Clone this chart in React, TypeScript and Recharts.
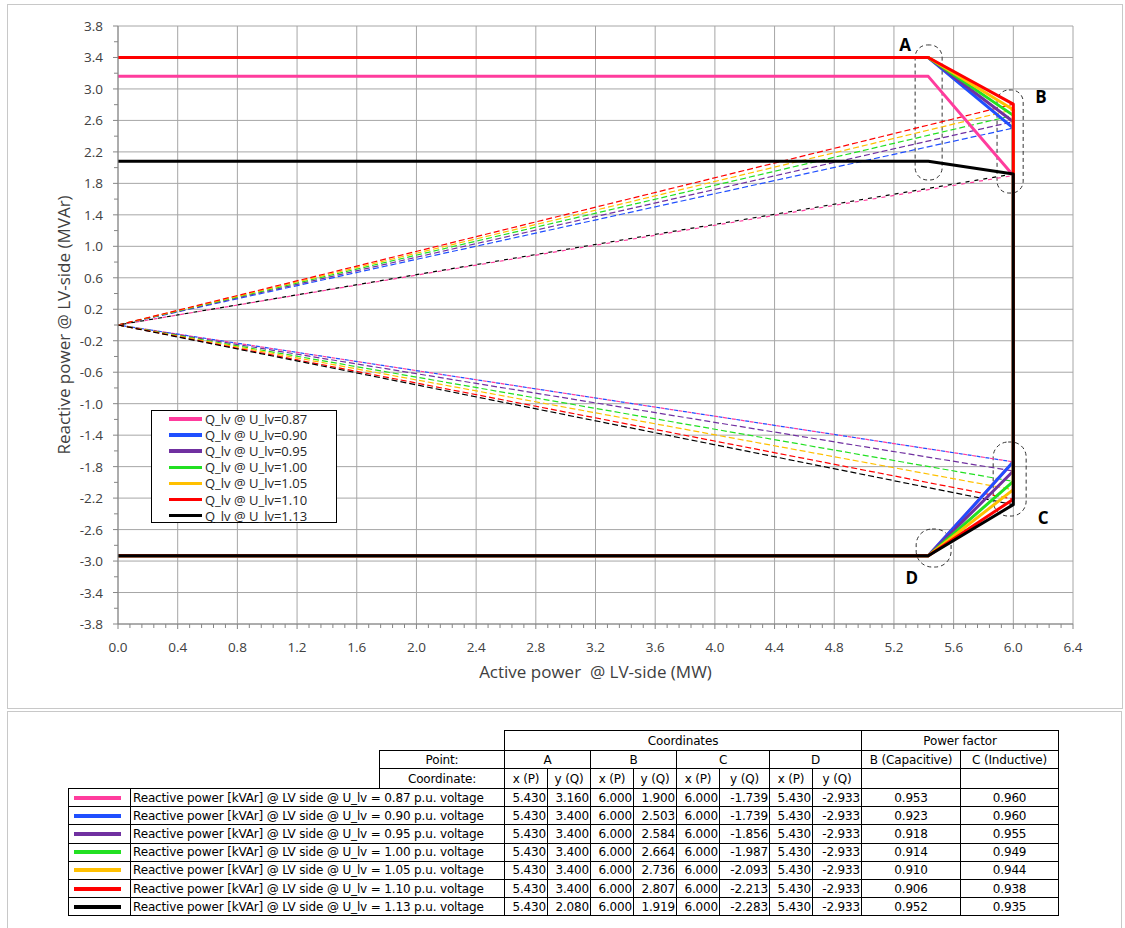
import React from "react";
import {
  LineChart,
  Line,
  XAxis,
  YAxis,
  CartesianGrid,
  ReferenceArea,
  ReferenceDot,
  Legend,
} from "recharts";

// voltage levels (p.u.) for each curve
const voltageLabels = ["0.87", "0.90", "0.95", "1.00", "1.05", "1.10", "1.13"];

// corner points of each capability curve (MW / MVAr)
const pointAx = [5.43, 5.43, 5.43, 5.43, 5.43, 5.43, 5.43];
const pointAy = [3.16, 3.4, 3.4, 3.4, 3.4, 3.4, 2.08];
const pointBx = [6.0, 6.0, 6.0, 6.0, 6.0, 6.0, 6.0];
const pointBy = [1.9, 2.503, 2.584, 2.664, 2.736, 2.807, 1.919];
const pointCx = [6.0, 6.0, 6.0, 6.0, 6.0, 6.0, 6.0];
const pointCy = [-1.739, -1.739, -1.856, -1.987, -2.093, -2.213, -2.283];
const pointDx = [5.43, 5.43, 5.43, 5.43, 5.43, 5.43, 5.43];
const pointDy = [-2.933, -2.933, -2.933, -2.933, -2.933, -2.933, -2.933];

// power factors at B and C
const pfCapacitive = [0.953, 0.923, 0.918, 0.914, 0.91, 0.906, 0.952];
const pfInductive = [0.96, 0.96, 0.955, 0.949, 0.944, 0.938, 0.935];

const xTickLabels = [0, 0.4, 0.8, 1.2, 1.6, 2.0, 2.4, 2.8, 3.2, 3.6, 4.0, 4.4, 4.8, 5.2, 5.6, 6.0, 6.4];
const yTickLabels = [-3.8, -3.4, -3.0, -2.6, -2.2, -1.8, -1.4, -1.0, -0.6, -0.2, 0.2, 0.6, 1.0, 1.4, 1.8, 2.2, 2.6, 3.0, 3.4, 3.8];

// annotation boxes around corner points, with their letters
const markerNames = ["A", "B", "C", "D"];
const markerBoxX1 = [5.342, 5.891, 5.865, 5.349];
const markerBoxX2 = [5.523, 6.066, 6.086, 5.583];
const markerBoxY1 = [1.843, 1.677, -2.428, -3.076];
const markerBoxY2 = [3.559, 2.987, -1.487, -2.593];
const markerTextX = [5.275, 6.186, 6.2, 5.32];
const markerTextY = [3.559, 2.898, -2.453, -3.216];

const seriesColors = ["#ff3c9d", "#1f4fff", "#7030a0", "#22e022", "#ffc000", "#ff0000", "#000000"];
// overlapping dashed pairs (pink/black up, pink/blue down) interleave their dashes
const upDash = ["4 5", "6 3", "6 3", "6 3", "6 3", "6 3", "4 5"];
const upOffset = [0, 0, 0, 0, 0, 0, 4.5];
const downDash = ["4 5", "4 5", "6 3", "6 3", "6 3", "6 3", "6 3"];
const downOffset = [0, 4.5, 0, 0, 0, 0, 0];
const AXIS = "#868686";
const GRID = "#a6a6a6";
const TEXT = "#404040";
const FONT = "'Open Sans', sans-serif";

// minor ticks: 5 subdivisions on x, 2 on y
const xMinor: number[] = [];
xTickLabels.forEach((v, i) => {
  if (i < xTickLabels.length - 1) {
    const step = (xTickLabels[i + 1] - v) / 5;
    for (let k = 0; k < 5; k++) xMinor.push(+(v + k * step).toFixed(3));
  } else xMinor.push(v);
});
const yMinor: number[] = [];
yTickLabels.forEach((v, i) => {
  yMinor.push(v);
  if (i < yTickLabels.length - 1) yMinor.push(+((v + yTickLabels[i + 1]) / 2).toFixed(3));
});
const xMajorSet = new Set(xTickLabels.map((v) => v.toFixed(2)));
const yMajorSet = new Set(yTickLabels.map((v) => v.toFixed(2)));

const series = voltageLabels.map((v, i) => ({
  name: `Q_lv @ U_lv=${v}`,
  solid: [
    { x: 0, y: pointAy[i] },
    { x: pointAx[i], y: pointAy[i] },
    { x: pointBx[i], y: pointBy[i] },
    { x: pointCx[i], y: pointCy[i] },
    { x: pointDx[i], y: pointDy[i] },
    { x: 0, y: pointDy[i] },
  ],
  up: [
    { x: 0, y: 0 },
    { x: pointBx[i], y: pointBy[i] },
  ],
  down: [
    { x: 0, y: 0 },
    { x: pointCx[i], y: pointCy[i] },
  ],
}));

const XTick = (props: any) => {
  const { x, y, payload } = props;
  const major = xMajorSet.has(Number(payload.value).toFixed(2));
  return (
    <g>
      <line x1={x} y1={y} x2={x} y2={y + (major ? 5 : 4)} stroke={AXIS} />
      {major && (
        <text x={x} y={y + 28} textAnchor="middle" fill={TEXT} fontSize={13.5} fontFamily={FONT}>
          {Number(payload.value).toFixed(1)}
        </text>
      )}
    </g>
  );
};

const YTick = (props: any) => {
  const { x, y, payload } = props;
  const major = yMajorSet.has(Number(payload.value).toFixed(2));
  return (
    <g>
      <line x1={x - (major ? 5 : 4)} y1={y} x2={x} y2={y} stroke={AXIS} />
      {major && (
        <text x={x - 15} y={y + 5} textAnchor="end" fill={TEXT} fontSize={13.5} fontFamily={FONT}>
          {Number(payload.value).toFixed(1)}
        </text>
      )}
    </g>
  );
};

const LegendBox = () => (
  <div
    style={{
      width: 186,
      height: 113,
      border: "1px solid #000",
      background: "#fff",
      boxSizing: "border-box",
      fontFamily: FONT,
      fontSize: 13,
      color: "#262626",
    }}
  >
    {series.map((s, i) => (
      <div key={s.name} style={{ display: "flex", alignItems: "center", height: 16.1 }}>
        <span
          style={{ display: "inline-block", marginLeft: 17, width: 33, height: 3.5, background: seriesColors[i] }}
        />
        <span style={{ marginLeft: 3, whiteSpace: "pre" }}>{s.name}</span>
      </div>
    ))}
  </div>
);

const cell: React.CSSProperties = { border: "1px solid #000", padding: "0 2px", whiteSpace: "nowrap" };
const numCell: React.CSSProperties = { ...cell, textAlign: "right", padding: "0 1px" };
const centerCell: React.CSSProperties = { ...cell, textAlign: "center" };
const blank: React.CSSProperties = { border: "none", padding: 0 };
const colWidths = [62, 249, 125, 43, 43, 43, 43, 43, 50, 43, 49, 99, 98];

const DataTable = () => (
  <table
    style={{
      position: "absolute",
      left: 68,
      top: 730,
      width: 990,
      borderCollapse: "collapse",
      tableLayout: "fixed",
      fontFamily: "'DejaVu Sans', sans-serif",
      fontSize: 12,
      letterSpacing: -0.15,
      color: "#000",
      lineHeight: "14px",
    }}
  >
    <colgroup>
      {colWidths.map((w, i) => (
        <col key={i} style={{ width: w }} />
      ))}
    </colgroup>
    <tbody>
      <tr style={{ height: 20 }}>
        <td colSpan={3} style={blank} />
        <td colSpan={8} style={centerCell}>Coordinates</td>
        <td colSpan={2} style={centerCell}>Power factor</td>
      </tr>
      <tr style={{ height: 18 }}>
        <td colSpan={2} style={blank} />
        <td style={centerCell}>Point:</td>
        {markerNames.map((m) => (
          <td key={m} colSpan={2} style={centerCell}>{m}</td>
        ))}
        <td style={centerCell}>B (Capacitive)</td>
        <td style={centerCell}>C (Inductive)</td>
      </tr>
      <tr style={{ height: 20 }}>
        <td colSpan={2} style={blank} />
        <td style={centerCell}>Coordinate:</td>
        {markerNames.map((m) => (
          <React.Fragment key={m}>
            <td style={centerCell}>x (P)</td>
            <td style={centerCell}>y (Q)</td>
          </React.Fragment>
        ))}
        <td style={cell} />
        <td style={cell} />
      </tr>
      {voltageLabels.map((v, i) => (
        <tr key={v} style={{ height: 18.2 }}>
          <td style={{ ...cell, padding: "0 9px 0 5px" }}>
            <div style={{ height: 4, background: seriesColors[i] }} />
          </td>
          <td colSpan={2} style={cell}>
            Reactive power [kVAr] @ LV side @ U_lv = {v} p.u. voltage
          </td>
          <td style={numCell}>{pointAx[i].toFixed(3)}</td>
          <td style={numCell}>{pointAy[i].toFixed(3)}</td>
          <td style={numCell}>{pointBx[i].toFixed(3)}</td>
          <td style={numCell}>{pointBy[i].toFixed(3)}</td>
          <td style={numCell}>{pointCx[i].toFixed(3)}</td>
          <td style={numCell}>{pointCy[i].toFixed(3)}</td>
          <td style={numCell}>{pointDx[i].toFixed(3)}</td>
          <td style={numCell}>{pointDy[i].toFixed(3)}</td>
          <td style={centerCell}>{pfCapacitive[i].toFixed(3)}</td>
          <td style={centerCell}>{pfInductive[i].toFixed(3)}</td>
        </tr>
      ))}
    </tbody>
  </table>
);

export default function App() {
  return (
    <div
      style={{
        position: "absolute",
        left: 0,
        top: 0,
        width: 1125,
        height: 928,
        background: "#fff",
        overflow: "hidden",
      }}
    >
      <div
        style={{
          position: "absolute",
          left: 7,
          top: 4,
          width: 1116,
          height: 705,
          border: "1px solid #c8c8c8",
          boxSizing: "border-box",
        }}
      />
      <div style={{ position: "absolute", left: 0, top: 0 }}>
        <LineChart width={1125} height={708} margin={{ top: 26, right: 52, left: 58, bottom: 44 }}>
          <CartesianGrid stroke={GRID} verticalValues={xTickLabels} horizontalValues={yTickLabels} />
          <XAxis
            type="number"
            dataKey="x"
            domain={[0, 6.4]}
            ticks={xMinor}
            interval={0}
            tickSize={0}
            tickMargin={0}
            tick={(p: any) => <XTick {...p} />}
            axisLine={{ stroke: AXIS }}
            height={40}
            allowDataOverflow
            label={{
              content: (p: any) => (
                <text
                  x={p.viewBox.x + p.viewBox.width / 2}
                  y={p.viewBox.y + 54}
                  textAnchor="middle"
                  fill={TEXT}
                  fontSize={17}
                  fontFamily={FONT}
                  style={{ whiteSpace: "pre" }}
                >
                  Active power  @ LV-side (MW)
                </text>
              ),
            }}
          />
          <YAxis
            type="number"
            dataKey="y"
            domain={[-3.8, 3.8]}
            ticks={yMinor}
            interval={0}
            tickSize={0}
            tickMargin={0}
            tick={(p: any) => <YTick {...p} />}
            axisLine={{ stroke: AXIS }}
            width={60}
            allowDataOverflow
            label={{
              content: (p: any) => {
                const cx = p.viewBox.x + 12;
                const cy = p.viewBox.y + p.viewBox.height / 2;
                return (
                  <text
                    x={cx}
                    y={cy}
                    transform={`rotate(-90, ${cx}, ${cy})`}
                    textAnchor="middle"
                    fill={TEXT}
                    fontSize={17}
                    fontFamily={FONT}
                  >
                    Reactive power @ LV-side (MVAr)
                  </text>
                );
              },
            }}
          />
          {series.map((s, i) => (
            <Line
              key={`up-${s.name}`}
              data={s.up}
              dataKey="y"
              stroke={seriesColors[i]}
              strokeWidth={1.2}
              strokeDasharray={upDash[i]}
              strokeDashoffset={upOffset[i]}
              dot={false}
              activeDot={false}
              isAnimationActive={false}
              legendType="none"
            />
          ))}
          {series.map((s, i) => (
            <Line
              key={`down-${s.name}`}
              data={s.down}
              dataKey="y"
              stroke={seriesColors[i]}
              strokeWidth={1.2}
              strokeDasharray={downDash[i]}
              strokeDashoffset={downOffset[i]}
              dot={false}
              activeDot={false}
              isAnimationActive={false}
              legendType="none"
            />
          ))}
          {series.map((s, i) => (
            <Line
              key={s.name}
              name={s.name}
              data={s.solid}
              dataKey="y"
              stroke={seriesColors[i]}
              strokeWidth={3}
              strokeLinejoin="round"
              dot={false}
              activeDot={false}
              isAnimationActive={false}
            />
          ))}
          {markerNames.map((m, i) => (
            <ReferenceArea
              key={`box-${m}`}
              x1={markerBoxX1[i]}
              x2={markerBoxX2[i]}
              y1={markerBoxY1[i]}
              y2={markerBoxY2[i]}
              ifOverflow="visible"
              shape={(p: any) => (
                <rect
                  x={p.x}
                  y={p.y}
                  width={p.width}
                  height={p.height}
                  rx={Math.min(p.width, p.height) / 2.2}
                  ry={Math.min(p.width, p.height) / 2.2}
                  fill="none"
                  stroke="#333"
                  strokeWidth={1}
                  strokeDasharray="4 3"
                />
              )}
            />
          ))}
          {markerNames.map((m, i) => (
            <ReferenceDot
              key={`lbl-${m}`}
              x={markerTextX[i]}
              y={markerTextY[i]}
              ifOverflow="visible"
              shape={(p: any) => (
                <text
                  x={p.cx}
                  y={p.cy + 6}
                  textAnchor="middle"
                  fontSize={17}
                  fontWeight="bold"
                  fontFamily={FONT}
                  fill="#000"
                >
                  {m}
                </text>
              )}
            />
          ))}
          <Legend
            layout="horizontal"
            verticalAlign="middle"
            align="center"
            wrapperStyle={{ left: 151, top: 410, width: 186 }}
            content={() => <LegendBox />}
          />
        </LineChart>
      </div>
      <div
        style={{
          position: "absolute",
          left: 7,
          top: 711,
          width: 1115,
          height: 240,
          border: "1px solid #c8c8c8",
          boxSizing: "border-box",
        }}
      />
      <DataTable />
    </div>
  );
}
